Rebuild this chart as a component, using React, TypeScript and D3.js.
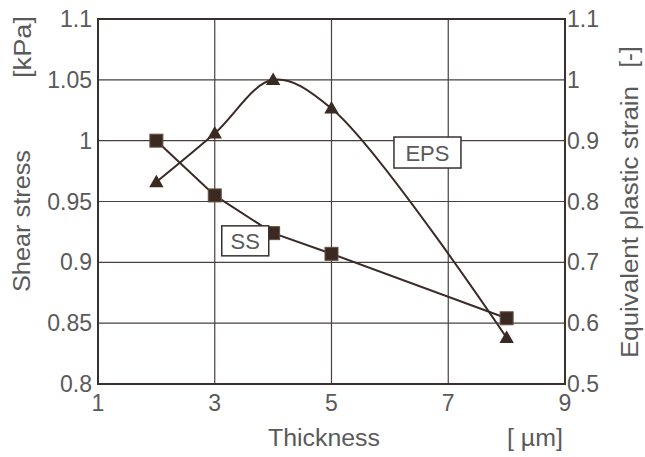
import React from 'react';
import * as d3 from 'd3';

// thickness values (µm)
const thickness = [2, 3, 4, 5, 8];
// shear stress SS (kPa), left axis
const shearStress = [1.0, 0.955, 0.924, 0.907, 0.854];
// equivalent plastic strain EPS (-), right axis
const plasticStrain = [0.832, 0.912, 1.0, 0.953, 0.576];

const xTicks = [1, 3, 5, 7, 9];
const leftTicks = [0.8, 0.85, 0.9, 0.95, 1, 1.05, 1.1];
const rightTicks = [0.5, 0.6, 0.7, 0.8, 0.9, 1, 1.1];

const W = 645;
const H = 457;
const margin = { top: 19, right: 80, bottom: 73, left: 98 };
const FONT = '"Liberation Sans", Arial, sans-serif';
const TEXT = '#5a5a5a';
const INK = '#3a2a28';

const App = () => {
  const width = W - margin.left - margin.right;
  const height = H - margin.top - margin.bottom;

  const x = d3.scaleLinear().domain([1, 9]).range([0, width]);
  const yL = d3.scaleLinear().domain([0.8, 1.1]).range([height, 0]);
  const yR = d3.scaleLinear().domain([0.5, 1.1]).range([height, 0]);

  const ssLine = d3
    .line<number>()
    .x((_, i) => x(thickness[i]))
    .y((d) => yL(d));

  // smoothed line, like the spreadsheet's
  const epsLine = d3
    .line<number>()
    .x((_, i) => x(thickness[i]))
    .y((d) => yR(d))
    .curve(d3.curveCatmullRom.alpha(0.5));

  const tri = d3.symbol().type(d3.symbolTriangle).size(90)();

  // the scan's lettering is a bit stretched, so titles get a fixed length
  const title = (t: string, len: number) => (
    <tspan textLength={len} lengthAdjust="spacingAndGlyphs">{t}</tspan>
  );

  return (
    <svg
      width={W}
      height={H}
      style={{ position: 'absolute', left: 0, top: 0, background: '#fff' }}
      fontFamily={FONT}>
      <g transform={`translate(${margin.left},${margin.top})`}>
        {/* grid */}
        {xTicks.map((t) => (
          <line key={'gx' + t} x1={x(t)} x2={x(t)} y1={0} y2={height} stroke="#4a4040" strokeWidth={1.2} />
        ))}
        {leftTicks.map((t) => (
          <line key={'gy' + t} x1={0} x2={width} y1={yL(t)} y2={yL(t)} stroke="#4a4040" strokeWidth={1.2} />
        ))}
        <rect x={0} y={0} width={width} height={height} fill="none" stroke="#3a3030" strokeWidth={2} />

        {/* left tick labels */}
        {leftTicks.map((t) => (
          <text key={'lt' + t} x={-6} y={yL(t)} dy="0.35em" textAnchor="end" fontSize={23} fill={TEXT}>
            {d3.format('~g')(t)}
          </text>
        ))}
        {/* right tick labels */}
        {rightTicks.map((t) => (
          <text key={'rt' + t} x={width + 2} y={yR(t)} dy="0.35em" textAnchor="start" fontSize={23} fill={TEXT}>
            {d3.format('~g')(t)}
          </text>
        ))}
        {/* x tick labels */}
        {xTicks.map((t) => (
          <text key={'xt' + t} x={x(t)} y={height + 27} textAnchor="middle" fontSize={23} fill={TEXT}>
            {t}
          </text>
        ))}

        {/* series */}
        <path d={ssLine(shearStress) || ''} fill="none" stroke={INK} strokeWidth={2} />
        <path d={epsLine(plasticStrain) || ''} fill="none" stroke={INK} strokeWidth={2} />
        {shearStress.map((v, i) => (
          <rect key={'sq' + i} x={x(thickness[i]) - 6.5} y={yL(v) - 6.5} width={13} height={13} fill="#3b2a22" stroke="#6a5040" strokeWidth={1} />
        ))}
        {plasticStrain.map((v, i) => (
          <path key={'tr' + i} d={tri || ''} transform={`translate(${x(thickness[i])},${yR(v) + 1})`} fill="#3b2a22" />
        ))}

        {/* series labels */}
        <rect x={x(3.12)} y={yL(0.93)} width={47} height={30} fill="#fff" stroke="#3a3030" strokeWidth={1.5} />
        <text x={x(3.12) + 23.5} y={yL(0.93) + 23} textAnchor="middle" fontSize={22} fill={TEXT}>SS</text>
        <rect x={x(6.07)} y={yR(0.906)} width={67} height={31} fill="#fff" stroke="#3a3030" strokeWidth={1.5} />
        <text x={x(6.07) + 33.5} y={yR(0.906) + 23.5} textAnchor="middle" fontSize={22} fill={TEXT}>EPS</text>
      </g>

      {/* axis titles */}
      <text transform="translate(30,221) rotate(-90)" textAnchor="middle" fontSize={23} fill={TEXT}>{title('Shear stress', 142)}</text>
      <text transform="translate(31,47) rotate(-90)" textAnchor="middle" fontSize={23} fill={TEXT}>{title('[kPa]', 62)}</text>
      <text transform="translate(638,222) rotate(-90)" textAnchor="middle" fontSize={23} fill={TEXT}>{title('Equivalent plastic strain', 272)}</text>
      <text transform="translate(637,57) rotate(-90)" textAnchor="middle" fontSize={23} fill={TEXT}>{title('[-]', 21)}</text>
      <text x={324} y={446} textAnchor="middle" fontSize={23} fill={TEXT}>{title('Thickness', 112)}</text>
      <text x={535} y={446} textAnchor="middle" fontSize={23} fill={TEXT}>{title('[ µm]', 56)}</text>
    </svg>
  );
};

export default App;
